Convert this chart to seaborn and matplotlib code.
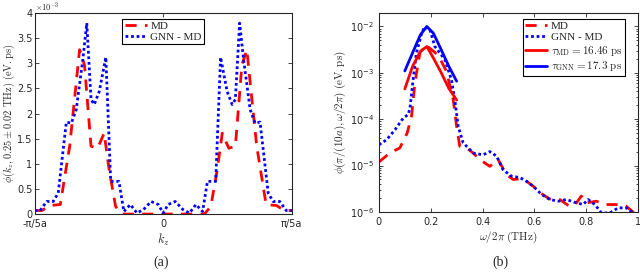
import numpy as np
import pandas as pd
import matplotlib
matplotlib.use("Agg")
import matplotlib.pyplot as plt
import seaborn as sns

# --- panel (a): phi(kz) at 0.25 THz, kz in units of pi/5a ---
kz_md = [-1.0, -0.944, -0.88, -0.8, -0.727, -0.65, -0.612, -0.561, -0.51, -0.459, -0.42,
         -0.37, -0.32, -0.22, 0.0, 0.22, 0.32, 0.37, 0.42, 0.459, 0.51, 0.561, 0.612,
         0.65, 0.727, 0.8, 0.88, 0.944, 1.0]
phi_md = [0.07, 0.07, 0.17, 0.19, 1.35, 3.27, 2.97, 1.35, 1.31, 1.61, 0.88,
          0.15, 0.0, 0.0, 0.0, 0.0, 0.0, 0.15, 0.88, 1.61, 1.31, 1.35, 2.97,
          3.27, 1.35, 0.19, 0.17, 0.07, 0.07]

kz_gnn = [-1.0, -0.957, -0.906, -0.855, -0.816, -0.753, -0.714, -0.676, -0.625, -0.594,
          -0.561, -0.536, -0.497, -0.446, -0.408, -0.344, -0.306, -0.255, -0.204, -0.153,
          -0.094, -0.038, 0.0, 0.038, 0.094, 0.153, 0.204, 0.255, 0.306, 0.344, 0.408,
          0.446, 0.497, 0.536, 0.561, 0.594, 0.625, 0.676, 0.714, 0.753, 0.816, 0.855,
          0.906, 0.957, 1.0]
phi_gnn = [0.07, 0.07, 0.25, 0.25, 0.42, 1.83, 1.81, 2.08, 3.07, 3.8,
           2.28, 2.18, 2.44, 3.12, 0.65, 0.65, 0.05, 0.19, 0.02, 0.09,
           0.25, 0.19, 0.02, 0.19, 0.25, 0.09, 0.02, 0.19, 0.05, 0.65, 0.65,
           3.12, 2.44, 2.18, 2.28, 3.8, 3.07, 2.08, 1.81, 1.83, 0.42, 0.25,
           0.25, 0.07, 0.07]

# --- panel (b): phi(pi/(10a), w) ---
f_md = [0.0, 0.042, 0.081, 0.109, 0.126, 0.139, 0.158, 0.181, 0.229, 0.261, 0.287, 0.3,
        0.312, 0.338, 0.364, 0.389, 0.428, 0.46, 0.492, 0.518, 0.544, 0.569, 0.595,
        0.621, 0.659, 0.698, 0.737, 0.762, 0.781, 0.8, 0.839, 0.878, 0.916, 0.955, 0.98, 1.0]
s_md = [1.19e-5, 1.86e-5, 2.4e-5, 5e-5, 1.15e-4, 6e-4, 2.7e-3, 4.0e-3, 2.4e-3, 1.07e-3,
        2.6e-4, 7e-5, 2.6e-5, 2.4e-5, 1.86e-5, 1.35e-5, 9.6e-6, 1.35e-5, 6.4e-6, 5e-6,
        5.2e-6, 4.6e-6, 3.6e-6, 2.6e-6, 1.9e-6, 1.85e-6, 1.3e-6, 1.56e-6, 2.2e-6, 1.56e-6,
        1.7e-6, 1.44e-6, 1.44e-6, 1.32e-6, 1.0e-6, 7e-7]

f_gnn = [0.0, 0.03, 0.062, 0.094, 0.113, 0.12, 0.132, 0.145, 0.165, 0.177, 0.197, 0.216,
         0.235, 0.255, 0.28, 0.293, 0.306, 0.325, 0.364, 0.402, 0.428, 0.454, 0.479,
         0.512, 0.544, 0.569, 0.595, 0.627, 0.659, 0.692, 0.724, 0.756, 0.788, 0.807,
         0.833, 0.859, 0.891, 0.923, 0.955, 0.98]
s_gnn = [2.8e-5, 3.6e-5, 5.9e-5, 1.06e-4, 1.26e-4, 1.74e-4, 7.1e-4, 2.7e-3, 7.2e-3, 1.0e-2,
         8.5e-3, 3.7e-3, 2.7e-3, 1.9e-3, 7.1e-4, 2.6e-4, 7e-5, 3.1e-5, 1.86e-5, 1.7e-5,
         2.0e-5, 1.6e-5, 8.1e-6, 5.9e-6, 5.5e-6, 4.6e-6, 3.6e-6, 2.4e-6, 1.85e-6, 1.7e-6,
         1.85e-6, 1.6e-6, 1.44e-6, 1.85e-6, 1.44e-6, 9.5e-7, 9.5e-7, 1.22e-6, 1.22e-6, 9.5e-7]

f_fit = [0.1, 0.13, 0.16, 0.185, 0.21, 0.24, 0.27, 0.3]
fit_md = [4.5e-4, 1.38e-3, 2.9e-3, 3.7e-3, 2.1e-3, 1.02e-3, 4.6e-4, 2.6e-4]
fit_gnn = [1.1e-3, 2.7e-3, 6.6e-3, 1.0e-2, 7.2e-3, 3.2e-3, 1.38e-3, 6.6e-4]

sns.set_style("ticks", {"xtick.direction": "in", "ytick.direction": "in"})
plt.rcParams["font.family"] = ["DejaVu Sans"]
plt.rcParams["mathtext.fontset"] = "cm"
plt.rcParams["font.size"] = 8
tick_col = "#262626"
leg_font = {"family": "Liberation Serif", "size": 8}

fig = plt.figure(figsize=(6.4, 2.72), dpi=100)
ax1 = fig.add_axes([0.054, 0.213, 0.402, 0.739])
ax2 = fig.add_axes([0.592, 0.221, 0.405, 0.731])

sns.lineplot(x=kz_md, y=np.array(phi_md) * 1e-3, ax=ax1, color="red", lw=2,
             linestyle=(0, (4, 3)), label="MD")
sns.lineplot(x=kz_gnn, y=np.array(phi_gnn) * 1e-3, ax=ax1, color="blue", lw=2,
             linestyle=(0, (1, 1)), label="GNN - MD")
ax1.set_xlim(-1, 1)
ax1.set_ylim(0, 4e-3)
ax1.set_xticks([-1, 0, 1])
ax1.set_xticklabels(["-π/5a", "0", "π/5a"])
ax1.set_yticks(np.arange(0, 4.01e-3, 0.5e-3))
ax1.set_yticklabels(["0", "0.5", "1", "1.5", "2", "2.5", "3", "3.5", "4"])
ax1.text(0.0, 1.0, r"$\times10^{-3}$", transform=ax1.transAxes, fontsize=6,
         color=tick_col, va="bottom")
ax1.set_xlabel(r"$k_z$", fontsize=9, labelpad=2)
ax1.set_ylabel(r"$\phi(k_z, 0.25 \pm 0.02\ \mathrm{THz})\ (\mathrm{eV.ps})$", fontsize=7.5, labelpad=0)
ax1.tick_params(top=True, right=True, colors=tick_col, labelsize=7, length=3, width=0.6)
ax1.tick_params(axis="y", pad=1.5)
ax1.legend(loc="upper center", bbox_to_anchor=(0.5, 1.0), prop=leg_font, fancybox=False,
           edgecolor="black", framealpha=1, handlelength=2.0, borderpad=0.2,
           labelspacing=0.15, handletextpad=0.3)

sns.lineplot(x=f_md, y=s_md, ax=ax2, color="red", lw=2,
             linestyle=(0, (4, 3)), label="MD")
sns.lineplot(x=f_gnn, y=s_gnn, ax=ax2, color="blue", lw=2,
             linestyle=(0, (1, 1)), label="GNN - MD")
sns.lineplot(x=f_fit, y=fit_md, ax=ax2, color="red", lw=2,
             label=r"$\tau_{\mathrm{MD}} = 16.46\ \mathrm{ps}$")
sns.lineplot(x=f_fit, y=fit_gnn, ax=ax2, color="blue", lw=2,
             label=r"$\tau_{\mathrm{GNN}} = 17.3\ \mathrm{ps}$")
ax2.set_yscale("log")
ax2.set_xlim(0, 1)
ax2.set_ylim(1e-6, 10 ** -1.71)
ax2.set_yticks([1e-6, 1e-5, 1e-4, 1e-3, 1e-2])
ax2.set_xticks([0, 0.2, 0.4, 0.6, 0.8, 1])
ax2.set_xticklabels(["0", "0.2", "0.4", "0.6", "0.8", "1"])
ax2.set_xlabel(r"$\omega/2\pi\ (\mathrm{THz})$", fontsize=8, labelpad=2)
ax2.set_ylabel(r"$\phi(\pi/(10a), \omega/2\pi)\ (\mathrm{eV.ps})$", fontsize=8, labelpad=1)
ax2.tick_params(which="both", top=True, right=True, colors=tick_col, labelsize=7, width=0.6)
ax2.tick_params(which="major", length=3)
ax2.tick_params(which="minor", length=1.5)
ax2.legend(loc="upper right", bbox_to_anchor=(0.97, 1.0), prop=leg_font, fancybox=False,
           edgecolor="black", framealpha=1, handlelength=2.0, borderpad=0.2,
           labelspacing=0.15, handletextpad=0.3)

for ax in (ax1, ax2):
    for s in ax.spines.values():
        s.set_color(tick_col)
        s.set_linewidth(0.8)
    ax.legend_.get_frame().set_linewidth(0.8)

fig.text(161 / 640, 1 - 262 / 272, "(a)", fontsize=10, ha="center", va="center",
         family="Liberation Serif")
fig.text(500 / 640, 1 - 262 / 272, "(b)", fontsize=10, ha="center", va="center",
         family="Liberation Serif")

fig.savefig("out.png", dpi=100)
